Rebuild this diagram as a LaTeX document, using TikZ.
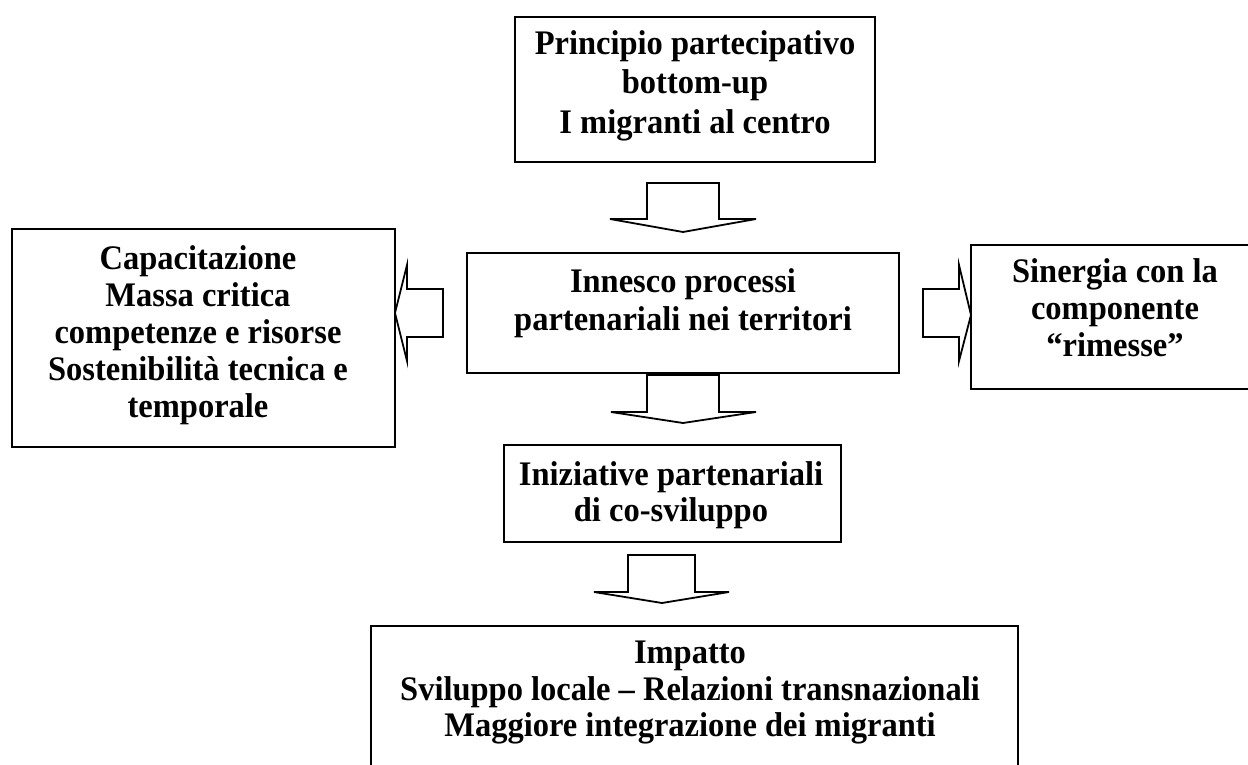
\documentclass[tikz,border=0pt]{standalone}
\usepackage{fontspec}
\usepackage{graphicx}
\setmainfont{Liberation Serif}
\newcommand\boxtext[2]{\scalebox{1}[1.06]{\fontsize{32.5}{#1}\selectfont\bfseries\begin{tabular}{@{}c@{}}#2\end{tabular}}}
\begin{document}
\begin{tikzpicture}[x=1pt,y=-1pt,
  box/.style={draw, line width=1.8pt, inner sep=0pt, fill=white},
  txt/.style={inner sep=0pt},
  blk/.style={draw, fill=white, line width=1.8pt, line join=miter}]
\useasboundingbox (0,0) rectangle (1248,765);
\clip (0,0) rectangle (1248,765);
% boxes
\node[box, minimum width=360pt, minimum height=145pt] (top) at (695,89.5) {};
\node[box, minimum width=432pt, minimum height=120pt] (mid) at (683,313) {};
\node[box, minimum width=383pt, minimum height=218pt] (left) at (203.5,338) {};
\node[box, minimum width=340pt, minimum height=144pt] (right) at (1141,317) {};
\node[box, minimum width=337pt, minimum height=97pt] (iniz) at (672.5,493.5) {};
\node[box, minimum width=647pt, minimum height=180pt] (imp) at (694.5,716) {};
% texts
\node[txt] (topT) at (695,85.9) {\boxtext{37.1}{Principio partecipativo\\bottom-up\\I migranti al centro}};
\node[txt] (midT) at (683,303.4) {\boxtext{35.85}{Innesco processi\\partenariali nei territori}};
\node[txt] (leftT) at (198,336.2) {\boxtext{34.7}{Capacitazione\\Massa critica\\competenze e risorse\\Sostenibilità tecnica e\\temporale}};
\node[txt] (rightT) at (1115,312) {\boxtext{34.9}{Sinergia con la\\componente\\“rimesse”}};
\node[txt] (inizT) at (671,496.1) {\boxtext{34.9}{Iniziative partenariali\\di co-sviluppo}};
\node[txt] (impT) at (690,692.6) {\boxtext{34.9}{Impatto\\Sviluppo locale – Relazioni transnazionali\\Maggiore integrazione dei migranti}};
% block arrows
\draw[blk] (647,183) -- (719,183) -- (719,219) -- (756,219) -- (683,232) -- (610,219) -- (647,219) -- cycle;
\draw[blk] (647,375) -- (719,375) -- (719,412) -- (756,412) -- (683,423) -- (611,412) -- (647,412) -- cycle;
\draw[blk] (628,555) -- (695,555) -- (695,592) -- (729,592) -- (662,603) -- (594,592) -- (628,592) -- cycle;
\draw[blk] (443,289) -- (407,289) -- (407,265) -- (395,313) -- (407,361) -- (407,337) -- (443,337) -- cycle;
\draw[blk] (923,289) -- (959,289) -- (959,265) -- (971,315) -- (959,361) -- (959,337) -- (923,337) -- cycle;
\end{tikzpicture}
\end{document}
